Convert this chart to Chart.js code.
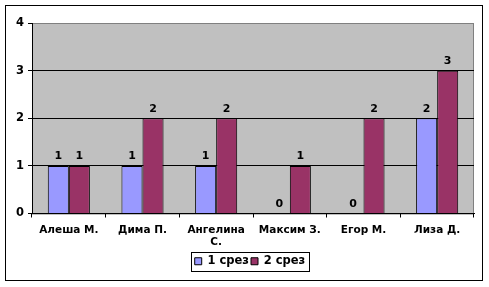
<!DOCTYPE html>
<html>
<head>
<meta charset="utf-8">
<script src="https://cdn.jsdelivr.net/npm/chart.js@4/dist/chart.umd.min.js"></script>
<style>
	html, body { margin: 0; padding: 0; background: #fff; }
	#wrap { width: 489px; height: 287px; position: relative; }
</style>
</head>
<body>
<div id="wrap"><canvas id="chart"></canvas></div>
<script>
const categories = ["Алеша М.", "Дима П.", ["Ангелина", "С."], "Максим З.", "Егор М.", "Лиза Д."];
const seriesNames = ["1 срез", "2 срез"];
const srez1 = [1, 1, 1, 0, 0, 2];
const srez2 = [1, 2, 2, 1, 2, 3];
const yTicks = [0, 1, 2, 3, 4];

const FONT = "'DejaVu Sans', Verdana, sans-serif";
const LEGEND_SHIFT = 10;

// plot background, plot border, outer frame and legend box
const frame = {
	id: "frame",
	afterLayout(chart) {
		// Excel centres the legend a bit right of the canvas middle
		const lg = chart.legend;
		lg.left += LEGEND_SHIFT;
		lg.right += LEGEND_SHIFT;
		(lg.legendHitBoxes || []).forEach((b) => { b.left += LEGEND_SHIFT; });
	},
	beforeDraw(chart) {
		const { ctx, chartArea: a } = chart;
		ctx.save();
		ctx.fillStyle = "#fff";
		ctx.fillRect(0, 0, chart.width, chart.height);
		ctx.fillStyle = "#c0c0c0";
		ctx.fillRect(a.left, a.top, a.right - a.left, a.bottom - a.top);
		ctx.strokeStyle = "#808080";
		ctx.lineWidth = 1;
		ctx.strokeRect(a.left + 0.5, a.top + 0.5, a.right - a.left - 1, a.bottom - a.top);
		ctx.restore();
	},
	afterDraw(chart) {
		const { ctx } = chart;
		ctx.save();
		ctx.strokeStyle = "#000";
		ctx.lineWidth = 1;
		ctx.strokeRect(5.5, 5.5, chart.width - 12, chart.height - 12);
		const boxes = chart.legend && chart.legend.legendHitBoxes;
		if (boxes && boxes.length) {
			const l = Math.min(...boxes.map((b) => b.left)) - 4;
			const r = Math.max(...boxes.map((b) => b.left + b.width)) + 3;
			const t = Math.min(...boxes.map((b) => b.top)) - 4;
			const btm = Math.max(...boxes.map((b) => b.top + b.height)) + 3;
			ctx.strokeRect(Math.round(l) + 0.5, Math.round(t) + 0.5, Math.round(r - l), Math.round(btm - t));
		}
		ctx.restore();
	},
};

// value labels above each bar
const valueLabels = {
	id: "valueLabels",
	afterDatasetsDraw(chart) {
		const { ctx } = chart;
		ctx.save();
		ctx.font = "bold 11px " + FONT;
		ctx.fillStyle = "#000";
		ctx.textAlign = "center";
		ctx.textBaseline = "bottom";
		chart.data.datasets.forEach((ds, i) => {
			chart.getDatasetMeta(i).data.forEach((bar, j) => {
				ctx.fillText(String(ds.data[j]), bar.x, bar.y - 4);
			});
		});
		ctx.restore();
	},
};

new Chart(document.getElementById("chart"), {
	type: "bar",
	data: {
		labels: categories,
		datasets: [
			{ label: seriesNames[0], data: srez1, backgroundColor: "#9999ff", borderColor: "#000", borderWidth: 1 },
			{ label: seriesNames[1], data: srez2, backgroundColor: "#993366", borderColor: "#000", borderWidth: 1 },
		],
	},
	options: {
		responsive: true,
		maintainAspectRatio: false,
		animation: false,
		devicePixelRatio: 1,
		layout: { padding: { left: 6, right: 15, top: 23, bottom: 10 } },
		datasets: { bar: { categoryPercentage: 2 / 3.5, barPercentage: 1 } },
		plugins: {
			tooltip: { enabled: false },
			legend: {
				position: "bottom",
				labels: {
					boxWidth: 7,
					boxHeight: 7,
					padding: 2,
					color: "#000",
					font: { family: FONT, size: 11.5, weight: "bold" },
					generateLabels(chart) {
						return chart.data.datasets.map((ds, i) => ({
							text: ds.label,
							fillStyle: ds.backgroundColor,
							strokeStyle: "#000",
							lineWidth: 1,
							datasetIndex: i,
						}));
					},
				},
			},
		},
		scales: {
			x: {
				offset: true,
				border: { color: "#000", width: 1 },
				grid: { offset: true, drawOnChartArea: false, drawTicks: true, tickLength: 4, color: "#000" },
				ticks: { color: "#000", maxRotation: 0, autoSkip: false, padding: 6, font: { family: FONT, size: 10.5, weight: "bold" } },
				afterFit(s) { s.height = 40; },
			},
			y: {
				min: 0,
				max: 4,
				afterBuildTicks(s) { s.ticks = yTicks.map((v) => ({ value: v })); },
				border: { color: "#000", width: 1 },
				grid: {
					color: (c) => (c.tick && c.tick.value === 4 ? "#808080" : "#000"),
					tickLength: 4,
					tickColor: "#000",
				},
				ticks: { color: "#000", padding: 4, font: { family: FONT, size: 11.5, weight: "bold" } },
				afterFit(s) { s.width = 26; },
			},
		},
	},
	plugins: [frame, valueLabels],
});
</script>
</body>
</html>
